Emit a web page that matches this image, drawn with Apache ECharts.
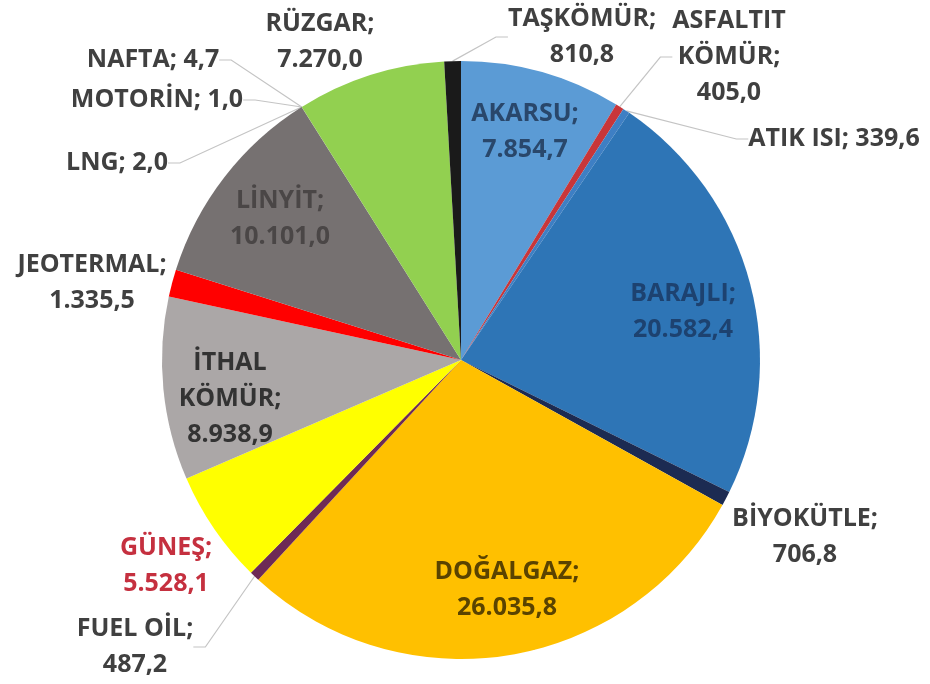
<!DOCTYPE html>
<html>
<head>
<meta charset="utf-8">
<script src="https://cdn.jsdelivr.net/npm/echarts@6/dist/echarts.min.js"></script>
<style>
  html, body { margin: 0; padding: 0; background: #fff; }
  #chart { width: 930px; height: 684px; }
</style>
</head>
<body>
<div id="chart"></div>
<script>
// kaynak bazında kurulu güç (MW)
const categories = ['AKARSU', 'ASFALTIT KÖMÜR', 'ATIK ISI', 'BARAJLI', 'BİYOKÜTLE', 'DOĞALGAZ',
  'FUEL OİL', 'GÜNEŞ', 'İTHAL KÖMÜR', 'JEOTERMAL', 'LİNYİT', 'LNG', 'MOTORİN', 'NAFTA', 'RÜZGAR', 'TAŞKÖMÜR']
const values = [7854.7, 405.0, 339.6, 20582.4, 706.8, 26035.8,
  487.2, 5528.1, 8938.9, 1335.5, 10101.0, 2.0, 1.0, 4.7, 7270.0, 810.8]

const colors = ['#5b9bd5', '#c8363a', '#3e7fc4', '#2e75b6', '#1c2b52', '#ffc000',
  '#6e2a55', '#ffff00', '#aba7a7', '#ff0000', '#767171', '#8a8a8a', '#8a8a8a', '#8a8a8a', '#92d050', '#1a1a1a']

// etiket görünümü
const insideLabels = ['AKARSU', 'BARAJLI', 'DOĞALGAZ', 'İTHAL KÖMÜR', 'LİNYİT']
const noLine = ['RÜZGAR', 'JEOTERMAL', 'GÜNEŞ', 'BİYOKÜTLE']
const labelColor = {
  'AKARSU': '#29476b', 'BARAJLI': '#1d4270', 'DOĞALGAZ': '#5a4300',
  'İTHAL KÖMÜR': '#333333', 'LİNYİT': '#4a4646', 'GÜNEŞ': '#c5303f'
}
const labelPos = {
  'AKARSU': [525, 132], 'BARAJLI': [683, 312], 'DOĞALGAZ': [507, 590],
  'İTHAL KÖMÜR': [230, 399], 'LİNYİT': [280, 219],
  'TAŞKÖMÜR': [582, 37], 'ASFALTIT KÖMÜR': [729, 57], 'ATIK ISI': [834, 139],
  'BİYOKÜTLE': [805, 537], 'FUEL OİL': [135, 647], 'GÜNEŞ': [166, 566],
  'JEOTERMAL': [92, 283], 'LNG': [117, 163], 'MOTORİN': [157, 100],
  'NAFTA': [153, 60], 'RÜZGAR': [320, 42]
}

function fmt(v){
  let parts = v.toFixed(1).split('.')
  let intPart = parts[0].replace(/\B(?=(\d{3})+(?!\d))/g, '.')
  return intPart + ',' + parts[1]
}

let data = categories.map((name, i) => {
  let item = {name: name, value: values[i], itemStyle: {color: colors[i]}, label: {}, labelLine: {}}
  if (insideLabels.includes(name)) item.label.position = 'inside'
  if (noLine.includes(name)) item.labelLine.show = false
  if (labelColor[name]) item.label.color = labelColor[name]
  return item
})

let chart = echarts.init(document.getElementById('chart'))
let option = {
  backgroundColor: '#fff',
  animation: false,
  series: [{
    type: 'pie',
    center: [461, 360],
    radius: 299,
    startAngle: 90,
    clockwise: true,
    avoidLabelOverlap: false,
    data: data,
    label: {
      show: true,
      position: 'outside',
      fontFamily: 'Open Sans',
      fontWeight: 'bold',
      fontSize: 25,
      lineHeight: 36,
      color: '#404040',
      formatter: (p) => {
        let name = p.name.replace(' KÖMÜR', '\nKÖMÜR')
        let sep = p.value < 400 ? ' ' : '\n'
        return name + ';' + sep + fmt(p.value)
      }
    },
    labelLine: {
      show: true,
      length: 20,
      length2: 12,
      lineStyle: {color: '#c4c4c4', width: 1.2}
    },
    labelLayout: (params) => {
      let p = labelPos[categories[params.dataIndex]]
      return {x: p[0], y: p[1], align: 'center', verticalAlign: 'middle'}
    }
  }]
}
chart.setOption(option)
</script>
</body>
</html>
